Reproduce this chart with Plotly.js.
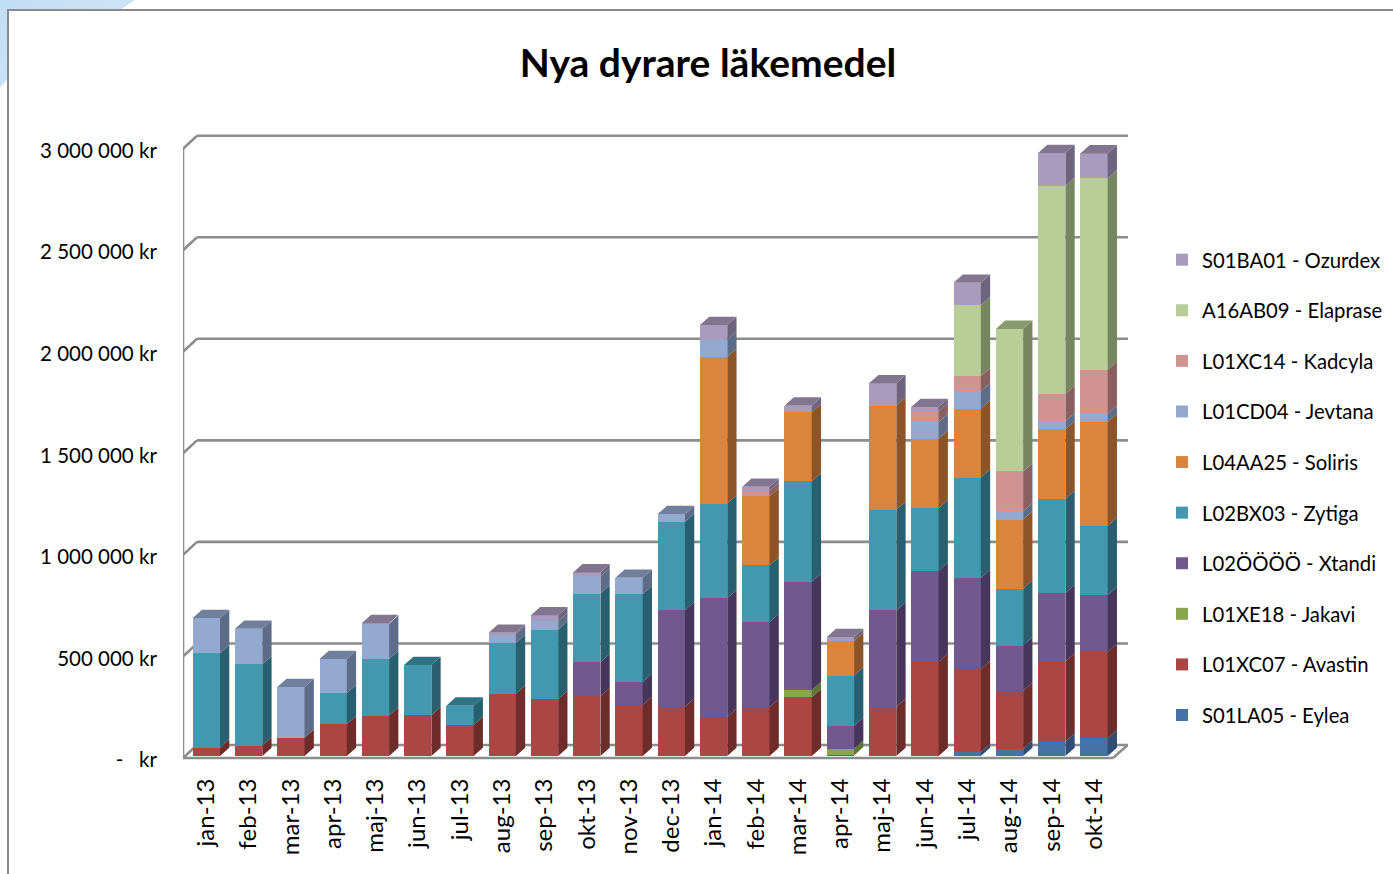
<!DOCTYPE html>
<html><head><meta charset="utf-8">
<script src="https://cdn.plot.ly/plotly-3.0.1.min.js"></script>
<style>
html,body{margin:0;padding:0;background:#fff;overflow:hidden}
#corner{position:absolute;left:0;top:0;width:140px;height:95px;background:linear-gradient(135deg,#c2def4,#d3e7f8);clip-path:polygon(0 0,135px 0,120px 10px,8px 10px,8px 78px,0 88px)}
#frame{position:absolute;left:7px;top:9px;width:1400px;height:880px;border:2px solid #8a8a8a;box-sizing:border-box}
#chart{position:absolute;left:0;top:0;width:1393px;height:874px}
</style></head><body>
<div id="corner"></div><div id="frame"></div><div id="chart"></div>
<script>
const months=['jan-13','feb-13','mar-13','apr-13','maj-13','jun-13','jul-13','aug-13','sep-13','okt-13','nov-13','dec-13','jan-14','feb-14','mar-14','apr-14','maj-14','jun-14','jul-14','aug-14','sep-14','okt-14'];
const eylea   =[0,0,0,0,0,0,0,0,0,0,0,0,0,0,0,0,0,0,18000,35000,71000,87000];
const avastin =[41000,51000,90000,156000,199000,201000,153000,307000,280000,294000,251000,243000,192000,240000,289000,3000,242000,464000,409000,286000,394000,424000];
const jakavi  =[0,0,0,0,0,0,0,0,0,0,0,0,0,0,36000,33000,0,0,0,0,0,0];
const xtandi  =[0,0,0,0,0,0,0,0,0,168000,113000,475000,585000,419000,533000,113000,475000,447000,449000,223000,337000,280000];
const zytiga  =[465000,401000,0,153000,278000,247000,95000,249000,342000,338000,432000,434000,466000,279000,495000,247000,495000,309000,495000,280000,464000,342000];
const soliris =[0,0,0,0,0,0,0,0,0,0,0,0,723000,340000,339000,170000,513000,342000,340000,340000,342000,511000];
const jevtana =[173000,174000,250000,168000,174000,0,0,44000,41000,84000,82000,39000,84000,0,0,0,0,82000,84000,41000,41000,41000];
const kadcyla =[0,0,0,0,0,0,0,0,0,0,0,0,0,28000,0,0,0,53000,75000,196000,133000,217000];
const elaprase=[0,0,0,0,0,0,0,0,0,0,0,0,0,0,0,0,0,0,350000,702000,1026000,942000];
const ozurdex =[0,0,0,0,3000,0,0,7000,30000,20000,0,0,72000,20000,33000,20000,110000,21000,110000,0,161000,123000];
const seriesNames=['S01LA05 - Eylea','L01XC07 - Avastin','L01XE18 - Jakavi','L02ÖÖÖÖ - Xtandi','L02BX03 - Zytiga','L04AA25 - Soliris','L01CD04 - Jevtana','L01XC14 - Kadcyla','A16AB09 - Elaprase','S01BA01 - Ozurdex'];
const seriesValues=[eylea,avastin,jakavi,xtandi,zytiga,soliris,jevtana,kadcyla,elaprase,ozurdex];
const frontColors=['#4572A7','#AA4643','#89A54E','#71588F','#4198AF','#DB843D','#93A9CF','#D19392','#B9CD96','#A99BBD'];
const sideColors =['#2E4E75','#6E2C2A','#5F7535','#47365C','#28606F','#8C5427','#5E6D87','#8A5F5F','#778660','#6E6480'];
const topColors  =['#3A6090','#8A3836','#748C42','#5C4875','#2F7284','#B06C32','#6F7F9C','#A87776','#8A9A6F','#81758F'];
const tickValues=[0,500000,1000000,1500000,2000000,2500000,3000000];
const tickLabels=['-\u00A0\u00A0\u00A0kr','500 000 kr','1 000 000 kr','1 500 000 kr','2 000 000 kr','2 500 000 kr','3 000 000 kr'];

// pixel geometry of the pseudo-3D projection, expressed as axis units
const pxX=42.27, pxY=101.55/500000;
const plotL=183, plotR=1128, plotT=130, plotB=760, zeroPx=756, c0=206.35;
const xr=[(plotL-c0)/pxX,(plotR-c0)/pxX];
const yr=[(zeroPx-plotB)/pxY,(zeroPx-plotT)/pxY];
const barW=27.3/pxX, halfW=barW/2, depX=9.3/pxX, depY=8.3/pxY;
const floorV=-2/pxY, labelV=-4/pxY, wallDX=14/pxX, wallDY=13/pxY;
const axisL=(plotL-c0)/pxX, axisR=(1113-c0)/pxX;

const idx=months.map((m,i)=>i);
const traces=[], sides=[], tops=[];
const cum=months.map(()=>0);
const topOwner=months.map((m,i)=>{let o=-1;seriesValues.forEach((s,k)=>{if(s[i]>0)o=k});return o});
seriesValues.forEach((vals,k)=>{
  traces.push({type:'bar',x:idx,y:vals,width:barW,name:seriesNames[k],legendgroup:'g'+k,legendrank:100-k,
    marker:{color:frontColors[k],line:{width:0}},hoverinfo:'x+y+name'});
  const sx=[],sy=[],tx=[],ty=[];
  idx.forEach(i=>{
    const v=vals[i]; if(!v) return;
    const b=cum[i], t=b+v, r=i+halfW, l=i-halfW;
    sx.push(r,r+depX,r+depX,r,r,null); sy.push(b,b+depY,t+depY,t,b,null);
    if(topOwner[i]===k){tx.push(l,l+depX,r+depX,r,l,null); ty.push(t,t+depY,t+depY,t,t,null);}
    cum[i]=t;
  });
  sides.push({type:'scatter',mode:'lines',x:sx,y:sy,fill:'toself',fillcolor:sideColors[k],line:{width:0},showlegend:false,hoverinfo:'skip'});
  tops.push({type:'scatter',mode:'lines',x:tx,y:ty,fill:'toself',fillcolor:topColors[k],line:{width:0},showlegend:false,hoverinfo:'skip'});
});

const gridLine={color:'#8c8c8c',width:2.6};
const seg=(x0,y0,x1,y1)=>({type:'line',xref:'x',yref:'y',x0,y0,x1,y1,layer:'below',line:gridLine});
const shapes=[];
tickValues.forEach(v=>{
  const f=floorV+v, b=f+wallDY;
  shapes.push(seg(axisL,f,axisL+wallDX,b));
  shapes.push(seg(axisL+wallDX,b,plotR/pxX-c0/pxX,b));
});
shapes.push(seg(axisL,floorV,axisL,floorV+3000000));
shapes.push(seg(axisL,floorV,axisR,floorV));
shapes.push(seg(axisR,floorV,axisR+wallDX+0.02,floorV+wallDY));

const fontFam='Lato, "Open Sans", sans-serif';
const layout={
  width:1393,height:874,paper_bgcolor:'rgba(0,0,0,0)',plot_bgcolor:'rgba(0,0,0,0)',
  margin:{l:plotL,r:1393-plotR,t:plotT,b:874-plotB,pad:0,autoexpand:false},
  barmode:'stack',showlegend:true,shapes,
  font:{family:fontFam,color:'#000'},
  title:{text:'<b>Nya dyrare läkemedel</b>',font:{family:fontFam,size:39,color:'#000'},x:708/1393,xanchor:'center',xref:'container',y:1-63/874,yanchor:'middle'},
  xaxis:{type:'linear',range:xr,tickmode:'array',tickvals:idx,ticktext:months,tickangle:-90,
    showgrid:false,zeroline:false,showline:false,ticks:'outside',ticklen:8,tickcolor:'rgba(0,0,0,0)',tickfont:{family:fontFam,size:24,color:'#000'}},
  yaxis:{type:'linear',range:yr,tickmode:'array',tickvals:tickValues.map(v=>v+labelV),ticktext:tickLabels,
    showgrid:false,zeroline:false,showline:false,ticks:'outside',ticklen:21,tickcolor:'rgba(0,0,0,0)',tickfont:{family:fontFam,size:20.5,color:'#000'}},
  legend:{x:1162/1393,xanchor:'left',xref:'container',y:1-240/874,yanchor:'top',yref:'container',traceorder:'grouped',tracegroupgap:21.2,maxheight:600,
    font:{family:fontFam,size:20.3,color:'#000'},bgcolor:'rgba(0,0,0,0)',borderwidth:0}
};
Plotly.newPlot('chart',[...traces,...sides,...tops],layout,{displayModeBar:false,responsive:false});
</script></body></html>
